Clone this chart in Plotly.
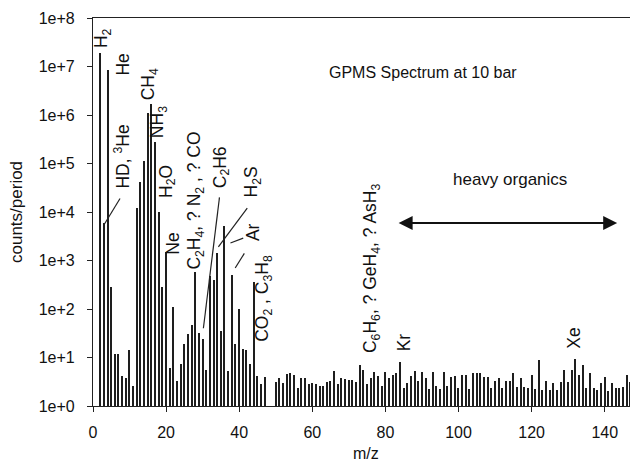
import plotly.graph_objects as go
import math

# m/z values and counts/period
mz = [2, 3, 4, 5, 6, 7, 8, 9, 10, 11, 12, 13, 14, 15, 16, 17, 18, 19, 20,
      21, 22, 23, 24, 25, 26, 27, 28, 29, 30, 31, 32, 33, 34, 35, 36, 37, 38, 39, 40,
      41, 42, 43, 44, 45, 46, 47, 50, 51, 52, 53, 54, 55, 56, 57, 58, 59, 60,
      61, 62, 63, 64, 65, 66, 67, 68, 69, 70, 71, 72, 73, 74, 75, 76, 77, 78, 79, 80,
      81, 82, 83, 84, 85, 86, 87, 88, 89, 90, 91, 92, 93, 94, 95, 96, 97, 98, 99, 100,
      101, 102, 103, 104, 105, 106, 107, 108, 109, 110, 111, 112, 113, 114, 115, 116,
      117, 118, 119, 120, 121, 122, 123, 124, 125, 126, 127, 128, 129, 130, 131, 132,
      133, 134, 135, 136, 137, 138, 139, 140, 141, 142, 143, 144, 145, 146, 147, 148]
counts = [1.9e7, 6e3, 8.5e6, 280, 11, 11, 3.2, 2.7, 13, 1.6, 1.2e4, 4.2e4, 1.1e5, 1.1e6, 1.7e6, 2.8e5, 1.0e4, 290, 1.5e3,
          5, 110, 2.3, 6.5, 18, 30, 46, 590, 31, 23, 4.5, 470, 400, 1.4e3, 35, 5.2e3, 4.2, 500, 18, 100,
          14, 13, 6.2, 360, 3.1, 1.8, 2.9, 2.1, 2.7, 2.0, 3.5, 3.7, 3.4, 1.4, 2.7, 2.7, 1.8, 2.0,
          1.8, 1.55, 1.55, 2.2, 2.3, 4.3, 1.8, 2.8, 2.6, 2.5, 2.5, 2.1, 5.9, 4.6, 1.8, 2.8, 4.1, 3.1, 1.55, 4.0,
          2.8, 3.4, 3.7, 6.9, 1.3, 2.0, 3.1, 4.3, 2.3, 4.0, 2.7, 1.2, 4.0, 1.6, 1.2, 4.1, 1.55, 2.9, 3.1, 1.4,
          3.4, 3.4, 1.2, 3.7, 3.7, 3.7, 2.9, 2.9, 1.3, 2.3, 2.7, 1.3, 2.3, 2.3, 3.7, 1.5,
          2.7, 1.5, 1.4, 3.4, 1.2, 8.0, 1.1, 2.3, 1.1, 2.0, 1.1, 2.1, 4.6, 2.1, 4.6, 8.4,
          3.4, 5.9, 1.4, 3.7, 1.3, 1.1, 2.0, 2.9, 1.05, 2.0, 1.4, 1.4, 1.5, 3.4, 2.1, 4.3]

y_tickvals = [1e0, 1e1, 1e2, 1e3, 1e4, 1e5, 1e6, 1e7, 1e8]
y_ticktext = ["1e+0", "1e+1", "1e+2", "1e+3", "1e+4", "1e+5", "1e+6", "1e+7", "1e+8"]
x_tickvals = [0, 20, 40, 60, 80, 100, 120, 140]

# peak labels: text, m/z position, counts at bottom of rotated label
label_text = ["H<sub>2</sub>", "He", "HD, <sup>3</sup>He", "CH<sub>4</sub>", "NH<sub>3</sub>",
              "H<sub>2</sub>O", "Ne", "C<sub>2</sub>H<sub>4</sub>, ? N<sub>2</sub> , ? CO",
              "C<sub>2</sub>H6", "H<sub>2</sub>S", "Ar", "CO<sub>2</sub> , C<sub>3</sub>H<sub>8</sub>",
              "C<sub>6</sub>H<sub>6</sub>, ? GeH<sub>4</sub>, ? AsH<sub>3</sub>", "Kr", "Xe"]
label_mz = [2.8, 8.3, 8.0, 15.5, 18.0, 20.2, 21.9, 28.0, 35.0, 43.6, 43.8, 46.6, 76.2, 85.0, 131.6]
label_base = [2.2e7, 6.0e6, 2.8e4, 1.8e6, 3.0e5, 1.8e4, 1.2e3, 6.0e2, 2.8e4, 1.8e4, 2.3e3, 1.9e1, 1.1e1, 1.2e1, 1.35e1]

# pointer lines: (m/z, counts) start -> end
ptr_x0 = [7.4, 34.6, 42.2, 41.1, 41.4]
ptr_y0 = [1.9e4, 2.0e4, 1.2e4, 2.9e3, 1.4e3]
ptr_x1 = [3.1, 30.2, 34.3, 37.6, 38.9]
ptr_y1 = [5.6e3, 4.0e1, 1.9e3, 2.3e3, 7.0e2]

fig = go.Figure()
fig.add_trace(go.Bar(x=mz, y=counts, width=0.34, base=1,
                     marker=dict(color="#1e1e1e", line=dict(width=0)),
                     showlegend=False))

font_family = "Liberation Sans, Arial, sans-serif"
for t, xm, yb in zip(label_text, label_mz, label_base):
    fig.add_annotation(x=xm, y=math.log10(yb), xref="x", yref="y", text=t,
                       textangle=-90, showarrow=False, xanchor="center", yanchor="bottom",
                       font=dict(family=font_family, size=17.5, color="#111111"))

for a, b, c, d in zip(ptr_x0, ptr_y0, ptr_x1, ptr_y1):
    fig.add_shape(type="line", xref="x", yref="y", x0=a, y0=b, x1=c, y1=d,
                  line=dict(color="#222222", width=1.2))

fig.add_annotation(x=90.4, y=math.log10(7.4e6), xref="x", yref="y", text="GPMS Spectrum at 10 bar",
                   showarrow=False, font=dict(family=font_family, size=16, color="#111111"))
fig.add_annotation(x=114.2, y=math.log10(4.6e4), xref="x", yref="y", text="heavy organics",
                   showarrow=False, font=dict(family=font_family, size=17, color="#111111"))
# double-headed arrow
arrow_x = [83.2, 143.4]
arrow_y = 5.9e3
fig.add_annotation(x=arrow_x[1], y=math.log10(arrow_y), ax=arrow_x[0], ay=math.log10(arrow_y),
                   xref="x", yref="y", axref="x", ayref="y", text="", showarrow=True,
                   arrowhead=2, arrowside="end+start", arrowsize=1.4, arrowwidth=2, arrowcolor="#111111")

# axis titles
fig.add_annotation(x=0, y=0.5, xref="paper", yref="paper", xshift=-77, text="counts/period",
                   textangle=-90, showarrow=False, xanchor="center", yanchor="middle",
                   font=dict(family=font_family, size=17, color="#111111"))
fig.add_annotation(x=0.5, y=0, xref="paper", yref="paper", yshift=-47, text="m/z",
                   showarrow=False, xanchor="center", yanchor="middle",
                   font=dict(family=font_family, size=16, color="#111111"))

# the page body has an 8px margin, so the figure is sized to end at the window edge
fig.update_layout(
    width=630, height=456,
    margin=dict(l=85, r=0, t=10, b=58),
    paper_bgcolor="white", plot_bgcolor="white",
    font=dict(family=font_family, size=16, color="#111111"),
    bargap=0,
)
fig.update_xaxes(range=[0, 149.1], tickvals=x_tickvals, ticks="outside", ticklen=5,
                 ticklabelstandoff=7, automargin=False,
                 showline=True, linecolor="#222222", linewidth=1.2, mirror=True,
                 showgrid=False, zeroline=False, tickcolor="#222222")
fig.update_yaxes(type="log", range=[0, 8], tickvals=y_tickvals, ticktext=y_ticktext,
                 ticks="outside", ticklen=5, ticklabelstandoff=9, automargin=False,
                 showline=True, linecolor="#222222", linewidth=1.2,
                 showgrid=False, zeroline=False, tickcolor="#222222")

fig.write_html("out.html")
